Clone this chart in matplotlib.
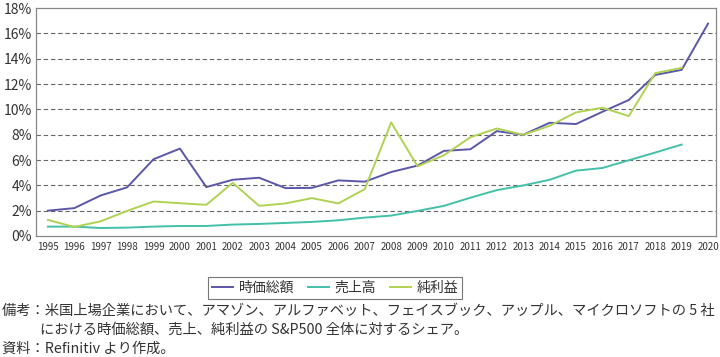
import matplotlib
matplotlib.use("Agg")
import matplotlib.pyplot as plt
from matplotlib.ticker import FuncFormatter

plt.rcParams['font.family'] = ['Noto Sans CJK JP', 'DejaVu Sans']

years = list(range(1995, 2021))
market_cap = [2.0, 2.2, 3.2, 3.84, 6.06, 6.9, 3.86, 4.44, 4.6, 3.78, 3.8, 4.39, 4.29,
              5.05, 5.56, 6.72, 6.85, 8.28, 7.99, 8.94, 8.84, 9.81, 10.74, 12.72, 13.12, 16.77]
sales = [0.74, 0.74, 0.63, 0.66, 0.74, 0.79, 0.79, 0.9, 0.95, 1.03, 1.11, 1.24, 1.45,
         1.61, 1.98, 2.38, 3.02, 3.62, 3.99, 4.44, 5.16, 5.37, 5.98, 6.59, 7.22]
net_income = [1.27, 0.71, 1.16, 1.98, 2.72, 2.59, 2.46, 4.2, 2.38, 2.57, 2.99, 2.57, 3.7,
              8.97, 5.5, 6.38, 7.8, 8.49, 7.99, 8.7, 9.76, 10.13, 9.47, 12.86, 13.28]
series_names = ['時価総額', '売上高', '純利益']
colors = ['#5b57a8', '#43c0a8', '#b0d253']

fig = plt.figure(figsize=(7.2, 3.57), dpi=100)
ax = fig.add_axes([0.05, 0.339, 0.9444, 0.6384])

ax.plot(years, market_cap, color=colors[0], lw=1.4, label=series_names[0])
ax.plot(years[:len(sales)], sales, color=colors[1], lw=1.4, label=series_names[1])
ax.plot(years[:len(net_income)], net_income, color=colors[2], lw=1.4, label=series_names[2])

ax.set_xlim(1994.55, 2020.3)
ax.set_ylim(0, 18)
ax.set_yticks(range(0, 19, 2))
ax.yaxis.set_major_formatter(FuncFormatter(lambda v, p: f'{int(v)}%'))
ax.set_xticks(years)
ax.set_xticklabels([str(y) for y in years], fontsize=7, color='#333333')
ax.tick_params(axis='y', labelsize=10, colors='#333333', length=0, pad=3)
ax.tick_params(axis='x', length=0, pad=4)
for y in range(2, 18, 2):
    ax.axhline(y, color='#666666', lw=0.8, ls=(0, (4, 2.5)), zorder=0)
for s in ax.spines.values():
    s.set_color('#888888')
    s.set_linewidth(0.9)

leg = fig.legend(loc='center', bbox_to_anchor=(335/720, 1-288/357), ncol=3, fontsize=10,
                 frameon=True, fancybox=False, edgecolor='#555555', handlelength=1.5,
                 handletextpad=0.4, columnspacing=1.0, borderpad=0.3)
leg.get_frame().set_linewidth(0.8)
for t in leg.get_texts():
    t.set_color('#333333')

fs = 10.3
fig.text(2/720, 1-311/357, '備考：米国上場企業において、アマゾン、アルファベット、フェイスブック、アップル、マイクロソフトの 5 社',
         fontsize=fs, color='#333333', va='center', ha='left')
fig.text(40/720, 1-330/357, 'における時価総額、売上、純利益の S&P500 全体に対するシェア。',
         fontsize=fs, color='#333333', va='center', ha='left')
fig.text(2/720, 1-349/357, '資料：Refinitiv より作成。',
         fontsize=fs, color='#333333', va='center', ha='left')

fig.savefig('out.png', dpi=100)
